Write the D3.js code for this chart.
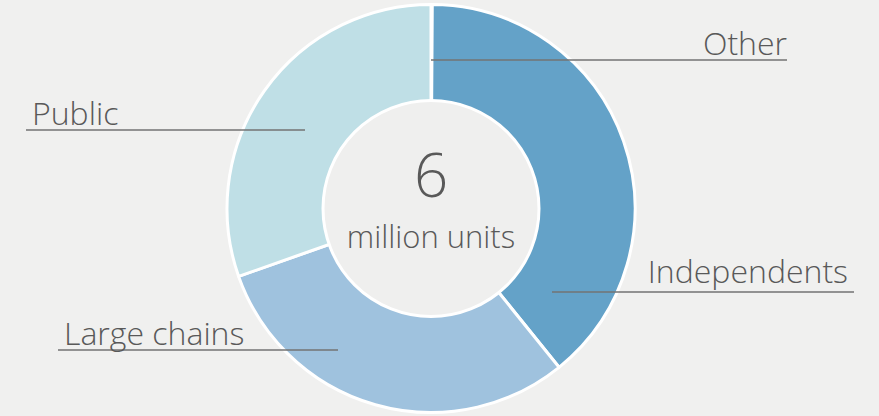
<!DOCTYPE html>
<html><head><meta charset="utf-8">
<script src="https://cdn.jsdelivr.net/npm/d3@7"></script>
<style>
html,body{margin:0;padding:0;background:#f0f0ef;}
svg{display:block;}
text{font-family:"Open Sans","Noto Sans",sans-serif;fill:#595959;}
</style></head>
<body>
<svg id="c" width="879" height="416"></svg>
<script>
// Data
const categories = ["Other", "Independents", "Large chains", "Public"];
const shares = [0.1, 39.1, 30.4, 30.4];
const colors = ["#64a2c8", "#64a2c8", "#9fc2de", "#bfdfe6"];
const centerValue = "6";
const centerUnit = "million units";

// Label layout (annotation positions)
const labelLayout = [
  {lineFrom:[431,60], lineTo:[787,60], anchor:"end", tx:787, ty:55},
  {lineFrom:[552,292], lineTo:[854,292], anchor:"end", tx:848, ty:283},
  {lineFrom:[338,350], lineTo:[58,350], anchor:"start", tx:64, ty:345},
  {lineFrom:[305,130], lineTo:[26,130], anchor:"start", tx:32, ty:125}
];

const svg = d3.select("#c");
const cx = 431, cy = 208.5, R = 204;

const pie = d3.pie().sort(null).value(d => d)(shares);
const arc = d3.arc().innerRadius(0).outerRadius(R);

const g = svg.append("g").attr("transform", `translate(${cx},${cy})`);
g.selectAll("path.slice").data(pie).join("path")
  .attr("class","slice")
  .attr("d", arc)
  .attr("fill", (d,i) => colors[i])
  .attr("stroke", "#ffffff")
  .attr("stroke-width", 3)
  .attr("stroke-linejoin","round");

// inner hole
g.append("circle").attr("r", 108).attr("fill", "#efefee")
  .attr("stroke", "#ffffff").attr("stroke-width", 3);

// center text
g.append("text").attr("text-anchor","middle").attr("y", -12)
  .style("font-size","60px").style("font-weight","300").text(centerValue);
g.append("text").attr("text-anchor","middle").attr("y", 39)
  .style("font-size","31px").style("font-weight","300").text(centerUnit);

// labels with leader lines
const lg = svg.append("g");
labelLayout.forEach((L, i) => {
  lg.append("line")
    .attr("x1", L.lineFrom[0]).attr("y1", L.lineFrom[1])
    .attr("x2", L.lineTo[0]).attr("y2", L.lineTo[1])
    .attr("stroke", "#737373").attr("stroke-width", 1.5);
  lg.append("text").attr("x", L.tx).attr("y", L.ty)
    .attr("text-anchor", L.anchor)
    .style("font-size","32px").style("font-weight","300")
    .text(categories[i]);
});
</script>
</body></html>
